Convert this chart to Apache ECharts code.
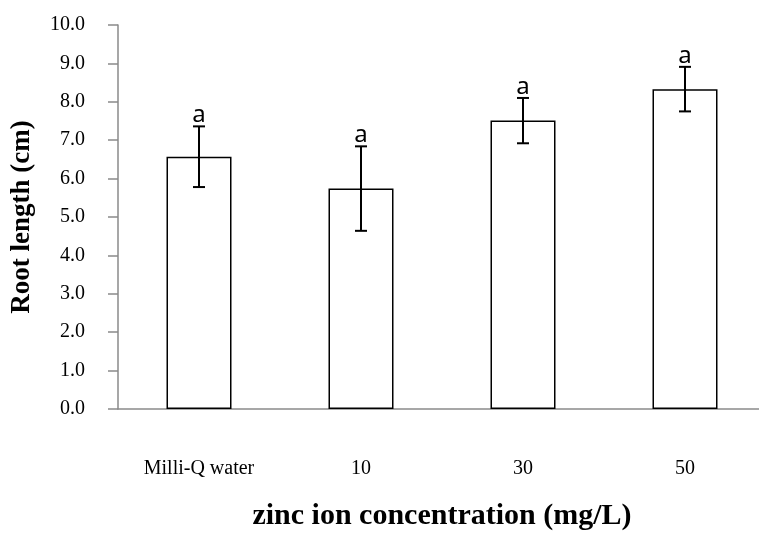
<!DOCTYPE html>
<html>
<head>
<meta charset="utf-8">
<script src="https://cdn.jsdelivr.net/npm/echarts@6/dist/echarts.min.js"></script>
<style>
  html, body { margin: 0; padding: 0; background: #fff; overflow: hidden; }
  #wrap { width: 759px; height: 536px; overflow: hidden; position: relative; }
  #chart { width: 766px; height: 536px; position: absolute; left: 0; top: 0; }
</style>
</head>
<body>
<div id="wrap"><div id="chart"></div></div>
<script>
var categories = ['Milli-Q water', '10', '30', '50'];
var means = [6.57, 5.74, 7.51, 8.33];
var errors = [0.79, 1.10, 0.59, 0.58];
var letters = ['a', 'a', 'a', 'a'];

var axisGray = '#8a8a8a';
var serif = '"Liberation Serif", "Times New Roman", serif';

var chart = echarts.init(document.getElementById('chart'));

// error bar + letter drawn from data through api.coord
function renderError(params, api) {
  var i = api.value(0);
  var m = api.value(1);
  var e = api.value(2);
  var top = api.coord([i, m + e]);
  var bot = api.coord([i, m - e]);
  var cap = 6;
  var ln = { stroke: '#000', lineWidth: 2 };
  return {
    type: 'group',
    children: [
      { type: 'line', shape: { x1: top[0], y1: top[1], x2: bot[0], y2: bot[1] }, style: ln },
      { type: 'line', shape: { x1: top[0] - cap, y1: top[1], x2: top[0] + cap, y2: top[1] }, style: ln },
      { type: 'line', shape: { x1: bot[0] - cap, y1: bot[1], x2: bot[0] + cap, y2: bot[1] }, style: ln },
      {
        type: 'text',
        style: {
          text: letters[params.dataIndex],
          x: top[0],
          y: top[1] + 1,
          align: 'center',
          verticalAlign: 'bottom',
          font: '24px "Noto Sans", sans-serif',
          fill: '#000'
        }
      }
    ]
  };
}

chart.setOption({
  animation: false,
  grid: { left: 118, right: 0, top: 25, bottom: 122 },
  xAxis: {
    type: 'category',
    data: categories,
    axisLine: { lineStyle: { color: axisGray, width: 1.5 } },
    axisTick: { length: 10, lineStyle: { color: axisGray, width: 1.5 } },
    axisLabel: { margin: 50, color: '#000', fontFamily: serif, fontSize: 20 },
    name: 'zinc ion concentration (mg/L)',
    nameLocation: 'middle',
    nameGap: 92,
    nameTextStyle: { color: '#000', fontFamily: serif, fontSize: 30, fontWeight: 'bold' }
  },
  yAxis: {
    type: 'value',
    min: 0,
    max: 10,
    interval: 1,
    axisLine: { show: true, lineStyle: { color: axisGray, width: 1.5 } },
    axisTick: { show: true, length: 10, lineStyle: { color: axisGray, width: 1.5 } },
    splitLine: { show: false },
    axisLabel: {
      margin: 33, color: '#000', fontFamily: serif, fontSize: 20,
      formatter: function(v) { return v.toFixed(1); }
    },
    name: 'Root length (cm)',
    nameLocation: 'middle',
    nameGap: 82,
    nameTextStyle: { color: '#000', fontFamily: serif, fontSize: 27, fontWeight: 'bold' }
  },
  series: [
    {
      type: 'bar',
      data: means,
      barWidth: 65,
      itemStyle: { color: '#fff', borderColor: '#000', borderWidth: 1.5 }
    },
    {
      type: 'custom',
      renderItem: renderError,
      data: means.map(function(m, i) { return [i, m, errors[i]]; }),
      z: 10
    }
  ]
});
</script>
</body>
</html>
